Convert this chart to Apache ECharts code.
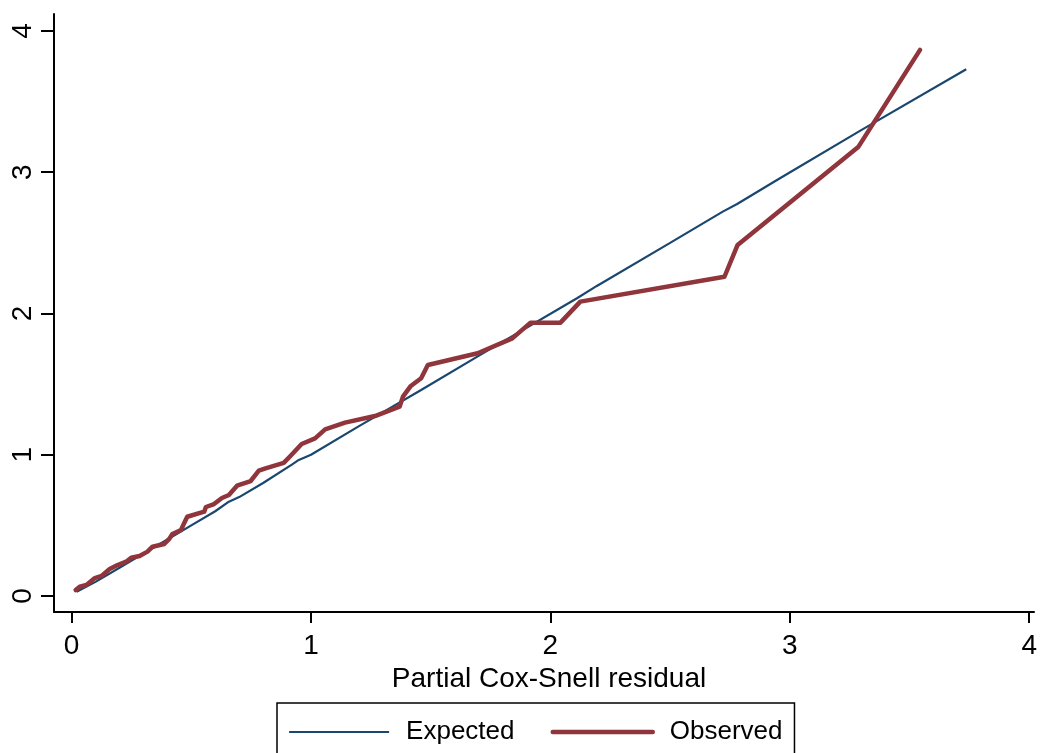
<!DOCTYPE html>
<html>
<head>
<meta charset="utf-8">
<script src="https://cdn.jsdelivr.net/npm/echarts@6/dist/echarts.min.js"></script>
<style>
html,body{margin:0;padding:0;background:#fff;}
#chart{width:1040px;height:753px;}
</style>
</head>
<body>
<div id="chart"></div>
<script>
// Observed: Nelson-Aalen cumulative hazard of partial Cox-Snell residuals
const observedX = [0.017,0.034,0.062,0.097,0.125,0.159,0.192,0.228,0.249,0.284,0.317,0.338,0.387,0.408,0.421,0.457,0.471,0.483,0.491,0.554,0.561,0.595,0.628,0.657,0.691,0.748,0.782,0.810,0.886,0.914,0.961,1.017,1.059,1.142,1.267,1.370,1.384,1.417,1.460,1.488,1.696,1.841,1.917,2.042,2.125,2.727,2.782,3.287,3.544];
const observedY = [0.042,0.066,0.078,0.127,0.142,0.191,0.219,0.243,0.271,0.283,0.314,0.349,0.368,0.404,0.439,0.467,0.519,0.561,0.573,0.597,0.630,0.651,0.694,0.715,0.781,0.814,0.887,0.904,0.942,0.991,1.076,1.116,1.180,1.227,1.274,1.340,1.411,1.487,1.541,1.635,1.718,1.824,1.935,1.935,2.084,2.260,2.485,3.181,3.866];
// Expected: reference line
const expectedX = [0.021,0.10,0.20,0.30,0.40,0.50,0.60,0.657,0.70,0.80,0.920,0.949,1.00,1.197,1.460,1.70,2.111,2.194,2.50,2.720,2.780,2.943,3.30,3.737];
const expectedY = [0.030,0.10,0.20,0.30,0.40,0.50,0.60,0.668,0.70,0.80,0.930,0.963,1.00,1.199,1.458,1.70,2.108,2.195,2.50,2.721,2.775,2.941,3.30,3.729];
const xTicks = [0,1,2,3,4];
const yTicks = [0,1,2,3,4];
const xTitle = 'Partial Cox-Snell residual';
const seriesNames = ['Expected','Observed'];

const FONT = '"Liberation Sans", Arial, Helvetica, sans-serif';
const BLUE = '#1a476f', RED = '#90353b';
const pairs = (xs, ys) => xs.map((x,i)=>[x, ys[i]]);

const chart = echarts.init(document.getElementById('chart'), null, {renderer:'canvas'});
chart.setOption({
  backgroundColor:'#ffffff',
  animation:false,
  grid:{left:54, right:-1.5, top:14, bottom:141, containLabel:false},
  xAxis:{
    type:'value', min:-0.0735, max:4.02,
    name:xTitle, nameLocation:'middle', nameGap:47,
    nameTextStyle:{fontSize:28, color:'#000', fontFamily:FONT, padding:[0,0,0,10]},
    axisLine:{show:true, onZero:false, lineStyle:{color:'#000', width:2}},
    axisTick:{show:true, length:11, customValues:xTicks, lineStyle:{color:'#000', width:2}},
    axisLabel:{show:true, customValues:xTicks, margin:20, fontSize:28, color:'#000', fontFamily:FONT},
    splitLine:{show:false}
  },
  yAxis:{
    type:'value', min:-0.1133, max:4.12,
    axisLine:{show:true, onZero:false, lineStyle:{color:'#000', width:2}},
    axisTick:{show:true, length:13, customValues:yTicks, lineStyle:{color:'#000', width:2}},
    axisLabel:{show:true, customValues:yTicks, rotate:90, margin:17, fontSize:28, color:'#000', fontFamily:FONT},
    splitLine:{show:false}
  },
  legend:{
    left:277, top:703,
    data:[
      {name:seriesNames[0], itemStyle:{opacity:0}, lineStyle:{width:2.2, color:BLUE}},
      {name:seriesNames[1], itemStyle:{opacity:0}, lineStyle:{width:4.5, color:RED, cap:'round'}}
    ],
    orient:'horizontal',
    itemWidth:100, itemHeight:26, itemGap:36,
    padding:[16,12,40,11],
    borderColor:'#000', borderWidth:1.5,
    textStyle:{fontSize:26, color:'#000', fontFamily:FONT, padding:[0,0,0,12]}
  },
  series:[
    {name:seriesNames[0], type:'line', data:pairs(expectedX, expectedY), symbol:'none', showSymbol:false,
     lineStyle:{color:BLUE, width:2.2}, itemStyle:{color:BLUE}, z:2},
    {name:seriesNames[1], type:'line', data:pairs(observedX, observedY), symbol:'none', showSymbol:false,
     lineStyle:{color:RED, width:4.5, join:'round', cap:'round'}, itemStyle:{color:RED}, z:3}
  ]
});
</script>
</body>
</html>
